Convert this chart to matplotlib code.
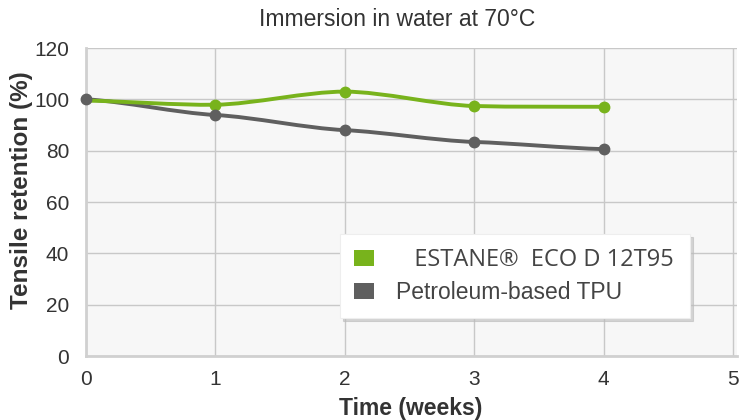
import matplotlib
matplotlib.use("Agg")
import matplotlib.pyplot as plt
import numpy as np
from matplotlib.path import Path
from matplotlib.patches import PathPatch, Patch

weeks = [0, 1, 2, 3, 4]
estane = [99.5, 97.9, 103.0, 97.4, 97.1]
petro = [100.0, 93.9, 88.0, 83.4, 80.6]
estane_label = "ESTANE\u00ae  ECO D 12T95"
petro_label = "Petroleum-based TPU"
title = "Immersion in water at 70\u00b0C"
xlabel = "Time (weeks)"
ylabel = "Tensile retention (%)"
xticks = [0, 1, 2, 3, 4, 5]
yticks = [0, 20, 40, 60, 80, 100, 120]

GREEN = "#78b31c"
GRAY = "#5f5f5f"

plt.rcParams['font.family'] = ['Liberation Sans', 'DejaVu Sans']

fig = plt.figure(figsize=(7.39, 4.2), dpi=100)
ax = fig.add_axes([86/739, 1-356/420, 651/739, 308/420])
ax.set_facecolor("#f7f7f7")
ax.set_xlim(0, 5.03)
ax.set_ylim(0, 120)
ax.set_xticks(xticks)
ax.set_yticks(yticks)
ax.grid(True, color="#c8c8c8", linewidth=1)
ax.set_axisbelow(True)
for s in ["top", "right"]:
    ax.spines[s].set_visible(False)
for s in ["left", "bottom"]:
    ax.spines[s].set_color("#d0d0d0")
    ax.spines[s].set_linewidth(2)
ax.tick_params(length=0, labelsize=15, colors="#333333")
ax.tick_params(axis='y', pad=12)
ax.tick_params(axis='x', pad=10)


def smooth_path(xs, ys, t=0.3, ys_scale=0.45):
    xs = np.asarray(xs, float); ys = np.asarray(ys, float)
    verts = [(xs[0], ys[0])]
    codes = [Path.MOVETO]
    n = len(xs)
    for i in range(n - 1):
        dx = xs[i+1] - xs[i]
        s1 = (ys[min(i+1, n-1)] - ys[max(i-1, 0)]) / (xs[min(i+1, n-1)] - xs[max(i-1, 0)])
        s2 = (ys[min(i+2, n-1)] - ys[i]) / (xs[min(i+2, n-1)] - xs[i])
        c1 = (xs[i] + dx*t, ys[i] + s1*dx*t*ys_scale)
        c2 = (xs[i+1] - dx*t, ys[i+1] - s2*dx*t*ys_scale)
        verts += [c1, c2, (xs[i+1], ys[i+1])]
        codes += [Path.CURVE4] * 3
    return Path(verts, codes)

for ys, c, z in [(petro, GRAY, 3), (estane, GREEN, 4)]:
    ax.add_patch(PathPatch(smooth_path(weeks, ys), facecolor="none",
                           edgecolor=c, linewidth=2.8, zorder=z,
                           capstyle="round"))
ax.plot(weeks[1:], estane[1:], "o", color=GREEN, markersize=7.5, zorder=5, clip_on=False)
ax.plot(weeks, petro, "o", color=GRAY, markersize=7.5, zorder=5, clip_on=False)

fig.text(411/739, 1-409/420, xlabel, ha="center", va="center", fontsize=16.5,
         fontweight="bold", color="#333333")
fig.text(22/739, 1-190/420, ylabel, ha="center", va="center", rotation=90,
         fontsize=17.5, fontweight="bold", color="#333333")
fig.text(397/739, 1-20/420, title, ha="center", va="center", fontsize=16.5, color="#333333")

handles = [Patch(facecolor=GREEN, edgecolor="none"), Patch(facecolor=GRAY, edgecolor="none")]
leg = ax.legend(handles, ["   " + estane_label, petro_label],
                loc="lower left", bbox_to_anchor=(340/739, 1-318/420, 350/739, 88/420),
                bbox_transform=fig.transFigure, mode="expand",
                frameon=True, fancybox=False, shadow={'color': '#bbbbbb', 'alpha': 0.6},
                fontsize=16.5, handlelength=0.9, handleheight=0.7, borderpad=0.6,
                labelspacing=0.4, handletextpad=0.95, borderaxespad=0)
leg.get_frame().set_edgecolor("#eeeeee")
leg.get_frame().set_linewidth(0.8)
for t in leg.get_texts():
    t.set_color("#444444")
leg.get_texts()[0].set_family(["Open Sans", "DejaVu Sans"])
leg.get_texts()[0].set_fontsize(17)

fig.savefig("out.png", dpi=100)
